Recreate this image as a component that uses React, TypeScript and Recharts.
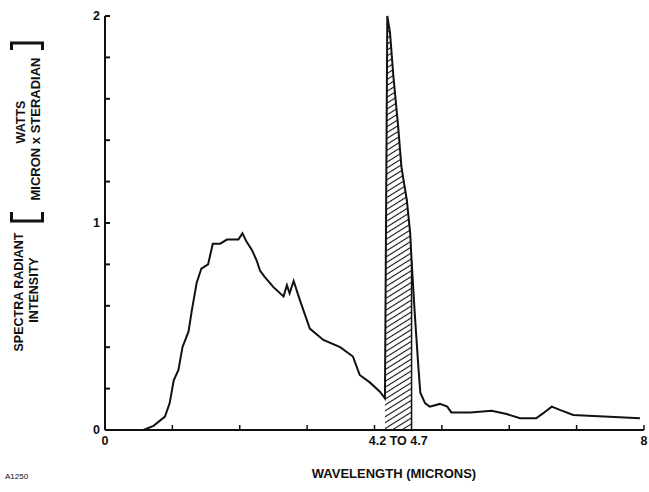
import React from 'react';
import {
  ComposedChart,
  Line,
  Area,
  XAxis,
  YAxis,
  ReferenceLine,
  ReferenceArea
} from 'recharts';

// readings
const wavelength = [
  0.57, 0.72, 0.89, 0.96, 1.02, 1.09, 1.15, 1.24, 1.29, 1.36, 1.43, 1.53, 1.6, 1.71, 1.81,
  1.98, 2.04, 2.1, 2.18, 2.25, 2.3, 2.37, 2.5, 2.65, 2.7, 2.74, 2.8, 2.89, 3.04, 3.24, 3.49,
  3.68, 3.78, 3.93, 4.08, 4.155, 4.19, 4.23, 4.28, 4.35, 4.4, 4.48, 4.53, 4.55, 4.6, 4.65,
  4.68, 4.75, 4.82, 4.97, 5.08, 5.14, 5.42, 5.74, 5.96, 6.16, 6.4, 6.5, 6.63, 6.75, 6.95,
  7.25, 7.64, 7.94
];
const intensity = [
  0, 0.02, 0.065, 0.13, 0.24, 0.29, 0.4, 0.476, 0.58, 0.71, 0.78, 0.8, 0.9, 0.9, 0.92,
  0.92, 0.95, 0.91, 0.87, 0.82, 0.77, 0.74, 0.69, 0.645, 0.7, 0.66, 0.72, 0.63, 0.49, 0.435, 0.4,
  0.355, 0.266, 0.23, 0.185, 0.153, 2.0, 1.92, 1.71, 1.47, 1.27, 1.11, 0.95, 0.82, 0.55, 0.31,
  0.18, 0.13, 0.113, 0.126, 0.113, 0.085, 0.085, 0.093, 0.077, 0.057, 0.057, 0.08, 0.113, 0.097, 0.073,
  0.068, 0.061, 0.057
];

// hatched band as drawn
const bandStart = 4.155;
const bandEnd = 4.55;
const bandEdgeTop = 0.82;
const bandLabel = '4.2 TO 4.7';

const xTicks = [0, 1, 2, 3, 4, 5, 6, 7, 8];
const xTickLabels: Record<number, string> = { 0: '0', 8: '8' };
const yTicks = [0, 0.2, 0.4, 0.6, 0.8, 1, 1.2, 1.4, 1.6, 1.8, 2];
const yTickLabels: Record<number, string> = { 0: '0', 1: '1', 2: '2' };

const data = wavelength.map((x, i) => ({
  x,
  y: intensity[i],
  band: x >= bandStart && x <= bandEnd ? intensity[i] : null
}));

const font = '"Liberation Sans", Arial, Helvetica, sans-serif';
const ink = '#111';

const YTitle = () => (
  <g fontFamily={font} fontWeight={700} fill={ink}>
    <text transform="translate(19,292) rotate(-90)" textAnchor="middle" dominantBaseline="central" fontSize={12.5}>
      SPECTRA RADIANT
    </text>
    <text transform="translate(34,290) rotate(-90)" textAnchor="middle" dominantBaseline="central" fontSize={12.5}>
      INTENSITY
    </text>
    <text transform="translate(21,122) rotate(-90)" textAnchor="middle" dominantBaseline="central" fontSize={12.5}>
      WATTS
    </text>
    <text transform="translate(35,129) rotate(-90)" textAnchor="middle" dominantBaseline="central" fontSize={13}>
      MICRON x STERADIAN
    </text>
    <path d="M11.5,50 V43 H42.5 V50" fill="none" stroke={ink} strokeWidth={3} />
    <path d="M11.5,212 V221 H42.5 V212" fill="none" stroke={ink} strokeWidth={3} />
  </g>
);

const XTitle = () => (
  <g fontFamily={font} fontWeight={700} fill={ink}>
    <text x={394} y={473} textAnchor="middle" dominantBaseline="central" fontSize={13}>
      WAVELENGTH (MICRONS)
    </text>
    <text x={5} y={476} dominantBaseline="central" fontSize={8} fontWeight={400}>
      A1250
    </text>
  </g>
);

const tickStyle = { fontFamily: font, fontWeight: 700, fontSize: 12.5, fill: ink };

// y ticks point into the plot; label sits 5px left of the axis line
const YTick = ({ x, y, payload }: any) => (
  <g>
    <line x1={x + 5} x2={x + 10} y1={y} y2={y} stroke={ink} strokeWidth={2} />
    <text x={x} y={y} dy="0.355em" textAnchor="end" {...tickStyle}>
      {yTickLabels[payload.value] ?? ''}
    </text>
  </g>
);

export default function App() {
  return (
    <div style={{ position: 'absolute', left: 0, top: 0, background: '#fff' }}>
      <ComposedChart width={649} height={492} data={data} margin={{ top: 16, right: 5, bottom: 12, left: 45 }}>
        <defs>
          <pattern id="hatch" patternUnits="userSpaceOnUse" width={5} height={5} patternTransform="rotate(-32)">
            <line x1={0} y1={2.5} x2={5} y2={2.5} stroke={ink} strokeWidth={1.1} />
          </pattern>
        </defs>
        <XAxis
          dataKey="x"
          type="number"
          domain={[0, 8]}
          ticks={xTicks}
          interval={0}
          tickFormatter={(v: number) => xTickLabels[v] ?? ''}
          tick={tickStyle}
          tickSize={-5}
          tickMargin={11}
          tickLine={{ stroke: ink, strokeWidth: 1.5 }}
          axisLine={{ stroke: ink, strokeWidth: 2 }}
          height={50}
          label={{ content: XTitle }}
        />
        <YAxis
          type="number"
          domain={[0, 2]}
          ticks={yTicks}
          interval={0}
          tick={YTick}
          tickSize={0}
          tickMargin={5}
          tickLine={false}
          axisLine={{ stroke: ink, strokeWidth: 2 }}
          width={60}
          label={{ content: YTitle }}
        />
        <Area
          dataKey="band"
          type="linear"
          stroke="none"
          fill="url(#hatch)"
          fillOpacity={1}
          isAnimationActive={false}
          dot={false}
          activeDot={false}
        />
        <ReferenceLine
          segment={[{ x: bandEnd, y: 0 }, { x: bandEnd, y: bandEdgeTop }]}
          stroke={ink}
          strokeWidth={1.5}
        />
        <ReferenceArea
          x1={bandStart}
          x2={bandEnd}
          y1={0}
          y2={0.02}
          fill="none"
          stroke="none"
          label={{ value: bandLabel, position: 'bottom', offset: 6, style: tickStyle }}
        />
        <Line
          dataKey="y"
          type="linear"
          stroke={ink}
          strokeWidth={2}
          dot={false}
          activeDot={false}
          isAnimationActive={false}
        />
      </ComposedChart>
    </div>
  );
}
